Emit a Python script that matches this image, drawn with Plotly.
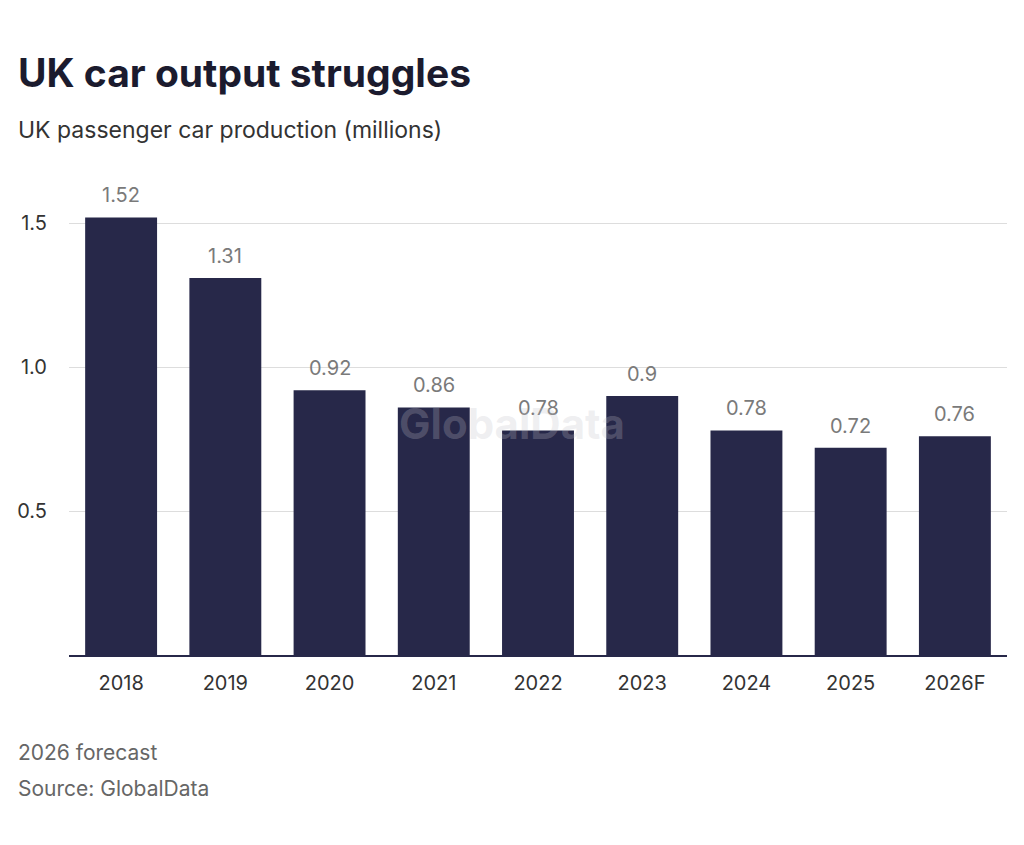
import plotly.graph_objects as go

years = ["2018", "2019", "2020", "2021", "2022", "2023", "2024", "2025", "2026F"]
output = [1.52, 1.31, 0.92, 0.86, 0.78, 0.9, 0.78, 0.72, 0.76]
labels = ["1.52", "1.31", "0.92", "0.86", "0.78", "0.9", "0.78", "0.72", "0.76"]
y_ticks = [0.5, 1.0, 1.5]
y_ticktext = ["0.5", "1.0", "1.5"]

navy = "#272849"
font = "Inter"

fig = go.Figure()
fig.add_trace(go.Bar(
    x=years, y=output,
    marker=dict(color=navy, line=dict(width=0)),
    hoverinfo="skip",
))

# value labels above the bars (category axis -> use index position)
for i, (val, lab) in enumerate(zip(output, labels)):
    fig.add_annotation(x=i, y=val, xref="x", yref="y", text=lab, showarrow=False,
                       yanchor="bottom", yshift=8,
                       font=dict(family=font, size=20, color="#7a7a7a"))

# page body has an 8px margin, so margins are shifted to compensate
fig.update_layout(
    width=1024, height=845,
    margin=dict(l=61, r=25, t=172, b=198),
    paper_bgcolor="white", plot_bgcolor="white",
    bargap=0.31,
    showlegend=False,
    font=dict(family=font),
    xaxis=dict(
        type="category",
        range=[-0.5, len(years) - 0.5],
        showline=True, linecolor=navy, linewidth=1.5,
        showgrid=False, ticks="",
        tickfont=dict(family=font, size=20, color="#333333"),
        ticklabelstandoff=9,
        automargin=False,
    ),
    yaxis=dict(
        range=[0, 1.65],
        tickvals=y_ticks, ticktext=y_ticktext,
        showgrid=True, gridcolor="#dddddd", gridwidth=1,
        zeroline=False, showline=False, ticks="",
        tickfont=dict(family=font, size=20, color="#333333"),
        ticklabelstandoff=21,
        automargin=False,
    ),
)

# title / subtitle / footnotes
fig.add_annotation(text="<b>UK car output struggles</b>", x=-0.057, y=1.227,
                   xref="paper", yref="paper", xanchor="left", yanchor="middle",
                   showarrow=False, font=dict(family=font, size=39, color="#1b1b2e"))
fig.add_annotation(text="UK passenger car production (millions)", x=-0.057, y=1.105,
                   xref="paper", yref="paper", xanchor="left", yanchor="middle",
                   showarrow=False, font=dict(family=font, size=23, color="#333333"))
fig.add_annotation(text="2026 forecast", x=-0.057, y=-0.206,
                   xref="paper", yref="paper", xanchor="left", yanchor="middle",
                   showarrow=False, font=dict(family=font, size=21, color="#666666"))
fig.add_annotation(text="Source: GlobalData", x=-0.057, y=-0.28,
                   xref="paper", yref="paper", xanchor="left", yanchor="middle",
                   showarrow=False, font=dict(family=font, size=21, color="#666666"))

# watermark
fig.add_annotation(text="<b>GlobalData</b>", x=0.472, y=0.488,
                   xref="paper", yref="paper", xanchor="center", yanchor="middle",
                   showarrow=False, font=dict(family=font, size=42, color="rgba(191,191,200,0.26)"))

fig.write_html("out.html")
